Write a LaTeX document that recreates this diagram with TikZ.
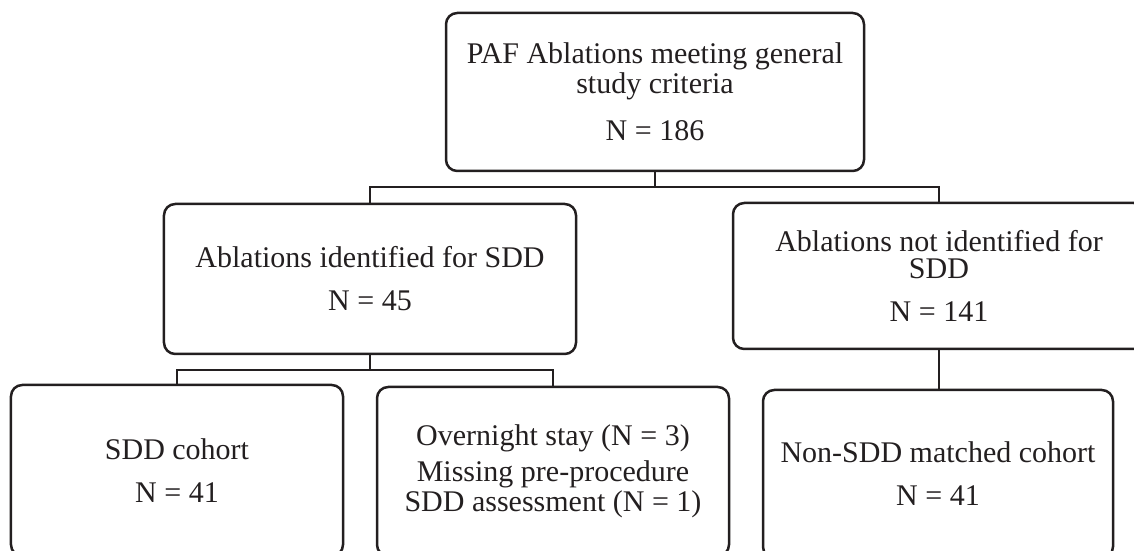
\documentclass[tikz,border=0pt]{standalone}
\usepackage{fontspec}
\setmainfont{Liberation Serif}
\usepackage{tikz}
\definecolor{ink}{HTML}{231F20}
\tikzset{
  box/.style={draw=ink,line width=1pt,rounded corners=4.5pt,inner sep=0pt,outer sep=0pt,align=center,text=ink,font=\fontsize{12}{10.8}\selectfont},
  link/.style={draw=ink,line width=1pt},
}

\begin{document}
\begin{tikzpicture}[x=0.4pt,y=-0.4pt]
\useasboundingbox (0,0) rectangle (1134,551);
\clip (0,0) rectangle (1134,551);
\node[box,minimum width=167.2pt,minimum height=63.2pt] (all) at (655,92) {PAF Ablations meeting general\\study criteria\\[8pt]N = 186};
\node[box,minimum width=164.8pt,minimum height=60pt] (sdd) at (370,279) {Ablations identified for SDD\\[6.4pt]N = 45};
\node[box,minimum width=164.8pt,minimum height=58.4pt] (nsdd) at (939,276) {Ablations not identified for\\SDD\\[6.4pt]N = 141};
\node[box,minimum width=132.8pt,minimum height=68.4pt] (coh) at (177,470.5) {SDD cohort\\[6.4pt]N = 41};
\node[box,minimum width=140.8pt,minimum height=67.6pt] (exc) at (553,471.5) {Overnight stay (N = 3)\\[2.4pt]Missing pre-procedure\\SDD assessment (N = 1)};
\node[box,minimum width=140pt,minimum height=67.2pt] (mat) at (938,474) {Non-SDD matched cohort\\[6.4pt]N = 41};
\draw[link] (all.south) -- ++(0,16) -| (sdd.north);
\draw[link] (all.south) -- ++(0,16) -| (nsdd.north);
\draw[link] (sdd.south) -- ++(0,16) -| (coh.north);
\draw[link] (sdd.south) -- ++(0,16) -| (exc.north);
\draw[link] (nsdd.south) -- (nsdd.south |- mat.north);
\end{tikzpicture}
\end{document}
